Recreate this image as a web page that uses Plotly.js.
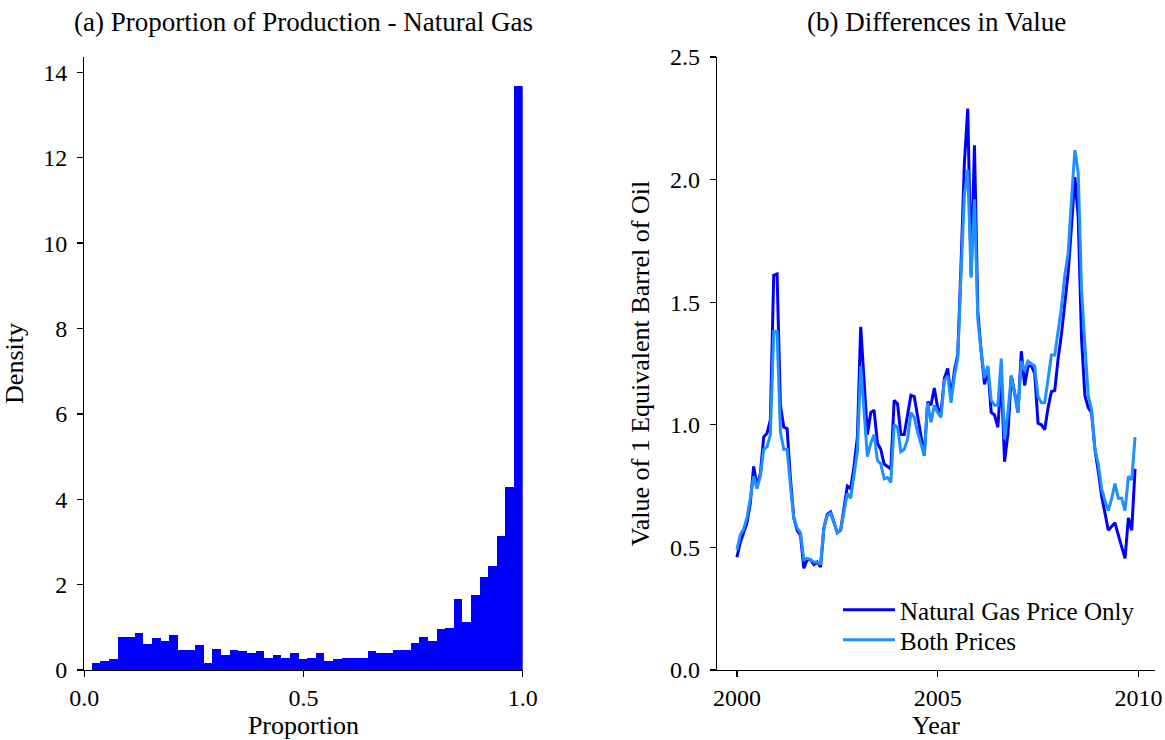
<!DOCTYPE html>
<html>
<head>
<meta charset="utf-8">
<script src="https://cdn.plot.ly/plotly-3.0.1.min.js"></script>
<style>html,body{margin:0;padding:0;background:#fff;}#chart{width:1165px;height:740px;}</style>
</head>
<body>
<div id="chart"></div>
<script>
// ---------- Panel (a): histogram of production proportion ----------
const binLow = 0.017;
const binHigh = 1.0;
const density = [
  0.16, 0.21, 0.26, 0.77, 0.77, 0.86, 0.61, 0.75, 0.68, 0.82,
  0.47, 0.47, 0.59, 0.16, 0.49, 0.35, 0.47, 0.44, 0.40, 0.44,
  0.29, 0.35, 0.29, 0.41, 0.26, 0.29, 0.41, 0.21, 0.26, 0.29,
  0.29, 0.29, 0.44, 0.41, 0.41, 0.47, 0.47, 0.63, 0.77, 0.68,
  0.96, 0.98, 1.66, 1.12, 1.75, 2.18, 2.43, 3.14, 4.28, 13.68
];

// ---------- Panel (b): monthly values, Jan 2000 - Dec 2009 ----------
const startYear = 2000;
const gasOnly = [
  0.46, 0.52, 0.56, 0.60, 0.68, 0.83, 0.75, 0.80, 0.95, 0.965,
  1.02, 1.61, 1.615, 1.08, 0.99, 0.985, 0.78, 0.62, 0.57, 0.55,
  0.415, 0.45, 0.45, 0.43, 0.44, 0.42, 0.58, 0.635, 0.645, 0.60,
  0.56, 0.57, 0.66, 0.75, 0.74, 0.83, 0.95, 1.40, 1.18, 0.96,
  1.05, 1.06, 0.925, 0.90, 0.84, 0.83, 0.82, 1.10, 1.085, 0.96,
  0.96, 1.04, 1.12, 1.115, 1.03, 0.96, 0.875, 1.094, 1.08, 1.15,
  1.07, 1.05, 1.19, 1.23, 1.11, 1.22, 1.285, 1.66, 2.07, 2.29,
  1.61, 2.14, 1.46, 1.30, 1.165, 1.23, 1.05, 1.04, 0.99, 1.20,
  0.85, 0.965, 1.20, 1.13, 1.05, 1.30, 1.16, 1.24, 1.24, 1.21,
  1.006, 1.00, 0.98, 1.07, 1.135, 1.14, 1.27, 1.37, 1.50, 1.62,
  1.81, 2.01, 1.85, 1.35, 1.12, 1.07, 1.05, 0.90, 0.81, 0.71,
  0.64, 0.57, 0.585, 0.60, 0.55, 0.50, 0.455, 0.62, 0.57, 0.82
];
const bothPrices = [
  0.49, 0.55, 0.575, 0.62, 0.70, 0.79, 0.74, 0.79, 0.90, 0.91,
  0.96, 1.38, 1.38, 0.97, 0.90, 0.90, 0.75, 0.62, 0.58, 0.56,
  0.45, 0.455, 0.45, 0.44, 0.44, 0.43, 0.58, 0.63, 0.64, 0.60,
  0.56, 0.57, 0.64, 0.72, 0.70, 0.80, 0.89, 1.24, 1.05, 0.87,
  0.925, 0.96, 0.855, 0.84, 0.78, 0.785, 0.765, 1.00, 0.99, 0.89,
  0.90, 0.94, 1.05, 1.03, 0.97, 0.92, 0.875, 1.09, 1.01, 1.08,
  1.05, 1.03, 1.18, 1.20, 1.09, 1.20, 1.27, 1.62, 1.94, 2.04,
  1.60, 1.92, 1.43, 1.30, 1.19, 1.24, 1.10, 1.08, 1.08, 1.27,
  0.94, 1.05, 1.20, 1.13, 1.05, 1.26, 1.22, 1.26, 1.25, 1.24,
  1.115, 1.09, 1.09, 1.18, 1.285, 1.285, 1.38, 1.48, 1.61, 1.70,
  1.92, 2.12, 2.03, 1.55, 1.33, 1.12, 1.06, 0.90, 0.84, 0.74,
  0.69, 0.65, 0.70, 0.76, 0.70, 0.70, 0.65, 0.79, 0.775, 0.95
];
const seriesNames = ['Natural Gas Price Only', 'Both Prices'];

// derived: bin centres and monthly decimal dates
const binWidth = (binHigh - binLow) / density.length;
const binCenters = density.map((_, k) => binLow + (k + 0.5) * binWidth);
const years = gasOnly.map((_, i) => startYear + i / 12);

const FONT = 'Liberation Serif, Times New Roman, serif';

const traces = [
  {
    type: 'bar', x: binCenters, y: density, width: binWidth,
    marker: {color: '#0000ff', line: {width: 0}},
    xaxis: 'x', yaxis: 'y', showlegend: false, hoverinfo: 'skip'
  },
  {
    type: 'scatter', mode: 'lines', x: years, y: gasOnly, name: seriesNames[0],
    line: {color: '#0000ff', width: 3}, xaxis: 'x2', yaxis: 'y2', legend: 'legend'
  },
  {
    type: 'scatter', mode: 'lines', x: years, y: bothPrices, name: seriesNames[1],
    line: {color: '#1e90ff', width: 3}, xaxis: 'x2', yaxis: 'y2', legend: 'legend2'
  }
];

const axisCommon = {
  showgrid: false, zeroline: false, showline: true, linecolor: '#000', linewidth: 1.3,
  ticks: 'outside', ticklen: 6, tickwidth: 1.3, tickcolor: '#000',
  tickfont: {family: FONT, size: 24, color: '#000'}
};
const yDom = [70 / 740, 683 / 740];
const labelFont = {family: FONT, size: 26, color: '#000'};
const legendCommon = {
  xanchor: 'left', yanchor: 'top', itemwidth: 52,
  font: {family: FONT, size: 25, color: '#000'},
  bgcolor: 'rgba(0,0,0,0)', borderwidth: 0
};

const layout = {
  width: 1165, height: 740,
  margin: {l: 0, r: 0, t: 0, b: 0, autoexpand: false},
  paper_bgcolor: '#fff', plot_bgcolor: '#fff',
  bargap: 0,
  font: {family: FONT, size: 24, color: '#000'},
  xaxis: Object.assign({}, axisCommon, {
    domain: [84.3 / 1165, 522.7 / 1165], range: [0, 1], dtick: 0.5, tick0: 0, tickformat: '.1f',
    ticklabelstandoff: 0,
    anchor: 'y', title: {text: 'Proportion', font: labelFont, standoff: 11}
  }),
  yaxis: Object.assign({}, axisCommon, {
    domain: yDom, range: [0, 14.36], dtick: 2, tick0: 0, anchor: 'x', ticklabelstandoff: 5,
    title: {text: 'Density', font: labelFont, standoff: 12}
  }),
  xaxis2: Object.assign({}, axisCommon, {
    domain: [717 / 1165, 1155 / 1165], range: [1999.504, 2010.413], dtick: 5, tick0: 2000,
    ticklabelstandoff: 0,
    anchor: 'y2', title: {text: 'Year', font: labelFont, standoff: 11}
  }),
  yaxis2: Object.assign({}, axisCommon, {
    domain: yDom, range: [0, 2.5], dtick: 0.5, tick0: 0, tickformat: '.1f', anchor: 'x2',
    ticklabelstandoff: 5,
    title: {text: 'Value of 1 Equivalent Barrel of Oil', font: labelFont, standoff: 12}
  }),
  legend: Object.assign({}, legendCommon, {x: 838 / 1165, y: (740 - 587) / 740}),
  legend2: Object.assign({}, legendCommon, {x: 838 / 1165, y: (740 - 617) / 740}),
  annotations: [
    {text: '(a) Proportion of Production - Natural Gas', xref: 'paper', yref: 'paper',
     x: 303.5 / 1165, y: 1 - 22 / 740, xanchor: 'center', yanchor: 'middle', showarrow: false,
     font: {family: FONT, size: 27, color: '#000'}},
    {text: '(b) Differences in Value', xref: 'paper', yref: 'paper',
     x: 936 / 1165, y: 1 - 22 / 740, xanchor: 'center', yanchor: 'middle', showarrow: false,
     font: {family: FONT, size: 27, color: '#000'}}
  ]
};

Plotly.newPlot('chart', traces, layout, {displayModeBar: false, staticPlot: true});
</script>
</body>
</html>
